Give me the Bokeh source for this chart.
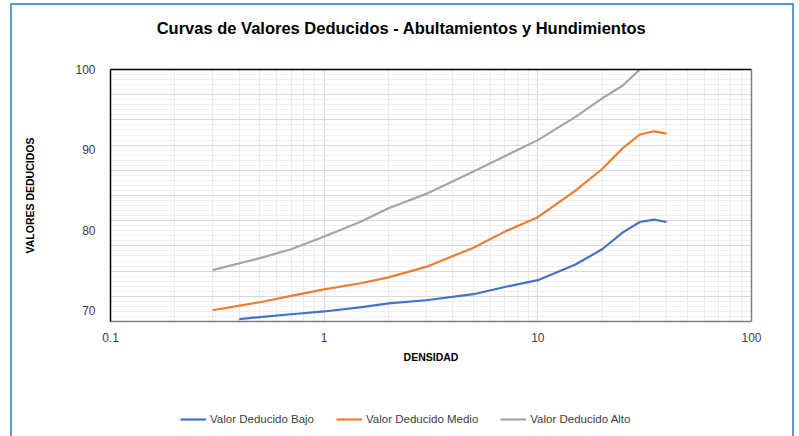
import numpy as np
from bokeh.plotting import figure
from bokeh.layouts import column
from bokeh.models import (FixedTicker, LogAxis, LinearAxis, Legend, LegendItem,
                          Range1d, Label)
from bokeh.embed import file_html
from bokeh.resources import INLINE

# ---- data ----
x_bajo = [0.4, 0.5, 0.7, 1, 1.5, 2, 3, 5, 7, 10, 15, 20, 25, 30, 35, 40]
y_bajo = [68.9, 69.15, 69.5, 69.85, 70.4, 70.85, 71.25, 72.0, 72.9, 73.75,
          75.7, 77.6, 79.7, 81.0, 81.3, 81.0]

x_medio = [0.3, 0.5, 0.7, 1, 1.5, 2, 3, 5, 7, 10, 15, 20, 25, 30, 35, 40]
y_medio = [70.0, 71.0, 71.8, 72.6, 73.4, 74.1, 75.4, 77.8, 79.8, 81.6,
           84.9, 87.6, 90.2, 91.9, 92.3, 92.0]

x_alto = [0.3, 0.5, 0.7, 1, 1.5, 2, 3, 5, 7, 10, 15, 20, 25, 30]
y_alto = [75.0, 76.5, 77.6, 79.2, 81.1, 82.7, 84.5, 87.3, 89.2, 91.2,
          94.1, 96.4, 98.0, 100.0]

series_names = ["Valor Deducido Bajo", "Valor Deducido Medio", "Valor Deducido Alto"]
series_colors = ["#4472C4", "#ED7D31", "#A5A5A5"]

x_ticks = [0.1, 1, 10, 100]
x_tick_labels = ["0.1", "1", "10", "100"]
y_ticks = [70, 80, 90, 100]

title_text = "Curvas de Valores Deducidos - Abultamientos y Hundimientos"
x_title = "DENSIDAD"
y_title = "VALORES DEDUCIDOS"

Y_MIN, Y_MAX = 68.6, 100.0
X_MIN, X_MAX = 0.1, 100.0

FONT = "Liberation Sans"
BORDER = "#5B9BD5"
W = 799
ML, MR = 110, 48


def strip(height):
    f = figure(width=W, height=height, output_backend="svg", toolbar_location=None,
               x_axis_location=None, y_axis_location=None, title_location=None,
               min_border_left=ML, min_border_right=MR, min_border_top=0,
               min_border_bottom=0, x_range=Range1d(0, 1), y_range=Range1d(0, 1))
    f.outline_line_color = None
    f.xgrid.visible = False
    f.ygrid.visible = False
    f.background_fill_alpha = 0
    f.border_fill_alpha = 0
    return f


# ---- title strip ----
p0 = strip(40)
p0.add_layout(Label(x=291, y=12.8, x_units="screen", y_units="screen", text=title_text,
                    text_font=FONT, text_font_style="bold", text_font_size="16.5px",
                    text_color="#000000", text_align="center",
                    text_baseline="alphabetic"))

# ---- main chart ----
p = figure(width=W, height=340, x_axis_type="log",
           x_range=Range1d(X_MIN, X_MAX), y_range=Range1d(Y_MIN, Y_MAX),
           output_backend="svg", toolbar_location=None, title_location=None,
           min_border_left=ML, min_border_right=MR,
           min_border_top=29, min_border_bottom=59)
p.outline_line_color = None
p.background_fill_color = "white"
p.border_fill_alpha = 0

# x axis
minor_x = [d * m for d in [0.1, 1, 10] for m in range(2, 10)]
p.xaxis.ticker = FixedTicker(ticks=x_ticks, minor_ticks=minor_x)
p.xaxis.major_label_overrides = {t: l for t, l in zip(x_ticks, x_tick_labels)}
p.xaxis.axis_line_color = "#7F7F7F"
p.xaxis.axis_line_width = 1.5
p.xaxis.major_tick_line_color = None
p.xaxis.minor_tick_line_color = None
p.xaxis.major_label_standoff = 5
p.xaxis.major_label_text_font = FONT
p.xaxis.major_label_text_font_size = "12px"
p.xaxis.major_label_text_color = "#404040"
p.xaxis.axis_label = x_title
p.xaxis.axis_label_text_font = FONT
p.xaxis.axis_label_text_font_style = "bold"
p.xaxis.axis_label_text_font_size = "10.5px"
p.xaxis.axis_label_text_color = "#000000"
p.xaxis.axis_label_standoff = 6

# y axis
p.yaxis.ticker = FixedTicker(ticks=y_ticks)
p.yaxis.axis_line_color = "#000000"
p.yaxis.axis_line_width = 1.5
p.yaxis.major_tick_line_color = None
p.yaxis.minor_tick_line_color = None
p.yaxis.major_label_standoff = 9
p.yaxis.major_label_text_font = FONT
p.yaxis.major_label_text_font_size = "12px"
p.yaxis.major_label_text_color = "#404040"
p.yaxis.axis_label = y_title
p.yaxis.axis_label_text_font = FONT
p.yaxis.axis_label_text_font_style = "bold"
p.yaxis.axis_label_text_font_size = "10.5px"
p.yaxis.axis_label_text_color = "#000000"
p.yaxis.axis_label_standoff = 36

# frame edges top/right
top_ax = LogAxis(ticker=FixedTicker(ticks=[]), axis_line_color="#000000",
                 axis_line_width=1.5, major_tick_line_color=None,
                 minor_tick_line_color=None, major_label_text_font_size="0px")
p.add_layout(top_ax, "above")
right_ax = LinearAxis(ticker=FixedTicker(ticks=[]), axis_line_color="#7F7F7F",
                      axis_line_width=1.5, major_tick_line_color=None,
                      minor_tick_line_color=None, major_label_text_font_size="0px")
p.add_layout(right_ax, "right")

# grids
p.xgrid.grid_line_color = "#D9D9D9"
p.xgrid.grid_line_width = 1.2
p.xgrid.minor_grid_line_color = "#EBEBEB"
p.xgrid.minor_grid_line_width = 1
major_y = list(np.linspace(Y_MIN, Y_MAX, 11))
minor_y = list(np.linspace(Y_MIN, Y_MAX, 51))
p.ygrid.ticker = FixedTicker(ticks=major_y, minor_ticks=minor_y)
p.ygrid.grid_line_color = "#D9D9D9"
p.ygrid.grid_line_width = 1.2
p.ygrid.minor_grid_line_color = "#F0F0F0"
p.ygrid.minor_grid_line_width = 1

# lines
p.line(x_bajo, y_bajo, line_color=series_colors[0], line_width=2.2, line_join="round")
p.line(x_medio, y_medio, line_color=series_colors[1], line_width=2.2, line_join="round")
p.line(x_alto, y_alto, line_color=series_colors[2], line_width=2.2, line_join="round")

# ---- legend strip ----
p2 = strip(56)
leg_renderers = [p2.line(x=[np.nan], y=[np.nan], line_color=c, line_width=2.2)
                 for c in series_colors]
legend = Legend(items=[LegendItem(label=n, renderers=[r])
                       for n, r in zip(series_names, leg_renderers)],
                orientation="horizontal", location=(70, 10),
                glyph_width=26, glyph_height=14, label_height=14,
                label_standoff=4, spacing=22, padding=0, margin=0,
                label_text_font=FONT, label_text_font_size="11.5px",
                label_text_color="#404040",
                background_fill_alpha=0, border_line_color=None)
p2.add_layout(legend)

layout = column(p0, p, p2, spacing=0)
g = f"linear-gradient({BORDER},{BORDER})"
layout.styles = {
    "background": (f"{g} 10px 3px / 2px 440px no-repeat, "
                   f"{g} 10px 3px / 784px 2px no-repeat, "
                   f"{g} 792px 3px / 2px 440px no-repeat, white"),
}

open("out.html", "w").write(file_html(layout, INLINE))
